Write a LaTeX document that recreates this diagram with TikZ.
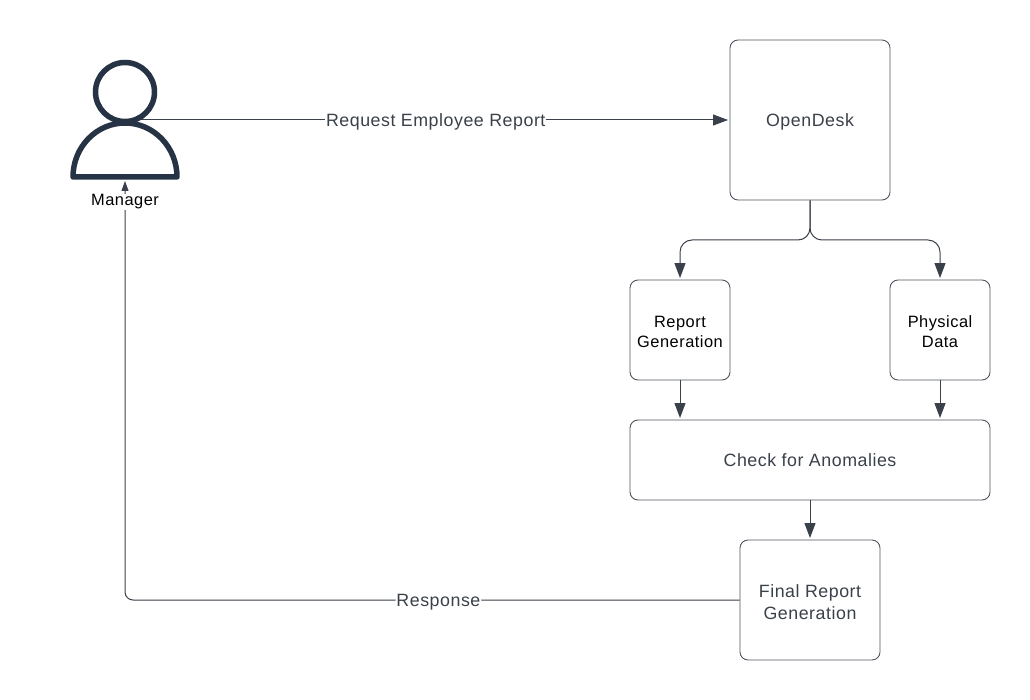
\documentclass[tikz,border=0pt]{standalone}
\usepackage{fontspec}
\setmainfont{Liberation Sans}[LetterSpace=3]
\usetikzlibrary{shapes, arrows.meta}

\definecolor{iconblue}{HTML}{263345}
\definecolor{linegray}{HTML}{3A414A}
\definecolor{boxgray}{HTML}{4F5660}

\begin{document}
\begin{tikzpicture}[x=1pt, y=-1pt, node distance=100pt]
    \tikzstyle{bigbox} = [rectangle, draw=boxgray, line width=0.9pt, rounded corners=8pt, fill=white, text=linegray, align=center, font=\fontsize{17.8}{22}\selectfont]
    \tikzstyle{smallbox} = [rectangle, draw=boxgray, line width=0.9pt, rounded corners=8pt, fill=white, text=black, align=center, minimum width=100pt, minimum height=100pt, text height=36pt, font=\fontsize{16.4}{20}\selectfont]
    \tikzstyle{arrow} = [draw=linegray, line width=1pt, -{Stealth[inset=0pt, length=15pt, width=11pt]}, shorten >=1.5pt]
    \tikzstyle{edgelabel} = [fill=white, text=linegray, inner sep=1pt, yshift=-2pt, font=\fontsize{17.8}{20}\selectfont]

    \useasboundingbox (0,0) rectangle (1030,700);

    \node (opendesk) [bigbox, text depth=0pt, minimum width=160pt, minimum height=160pt] at (810,120) {OpenDesk};
    \node (report) [smallbox, below of=opendesk, xshift=-130pt, node distance=210pt] {Report\\Generation};
    \node (physical) [smallbox, below of=opendesk, xshift=130pt, node distance=210pt] {Physical\\Data};
    \node (check) [bigbox, below of=opendesk, minimum width=360pt, minimum height=80pt, node distance=340pt] {Check for Anomalies};
    \node (final) [bigbox, text height=39pt, below of=check, minimum width=140pt, minimum height=120pt, node distance=140pt] {Final Report\\Generation};
    \node (fork) [coordinate, below of=opendesk, node distance=120pt] {};
    \coordinate (neck) at (125,120);
    \coordinate (foot) at (125,177);

    % Arrows
    \draw [arrow] (neck) -- node[edgelabel, pos=0.514] {Request Employee Report} (opendesk.west);
    \draw [arrow, rounded corners=12pt] (opendesk.south) -- (fork) -| (report.north);
    \draw [arrow, rounded corners=12pt] (opendesk.south) -- (fork) -| (physical.north);
    \draw [arrow] (report.south) -- (report.south |- check.north);
    \draw [arrow] (physical.south) -- (physical.south |- check.north);
    \draw [arrow] (check.south) -- (final.north);
    \draw [draw=linegray, line width=1pt, rounded corners=8pt, -{Stealth[inset=0pt, length=10pt, width=7pt]}, shorten >=4pt] (final.west) -- node[edgelabel, pos=0.49] {Response} (foot |- final.west) -- (foot);

    % Manager
    \node (head) [circle, draw=iconblue, line width=5.5pt, minimum size=59pt, inner sep=0pt] at (125,92) {};
    \draw [draw=iconblue, line width=5.5pt, line join=round] (73,177) arc[start angle=180, end angle=0, x radius=52pt, y radius=54pt] -- cycle;
    \node (manager) [fill=white, text=black, inner sep=1pt, font=\fontsize{16.4}{20}\selectfont] at (125,202) {Manager};
\end{tikzpicture}
\end{document}
